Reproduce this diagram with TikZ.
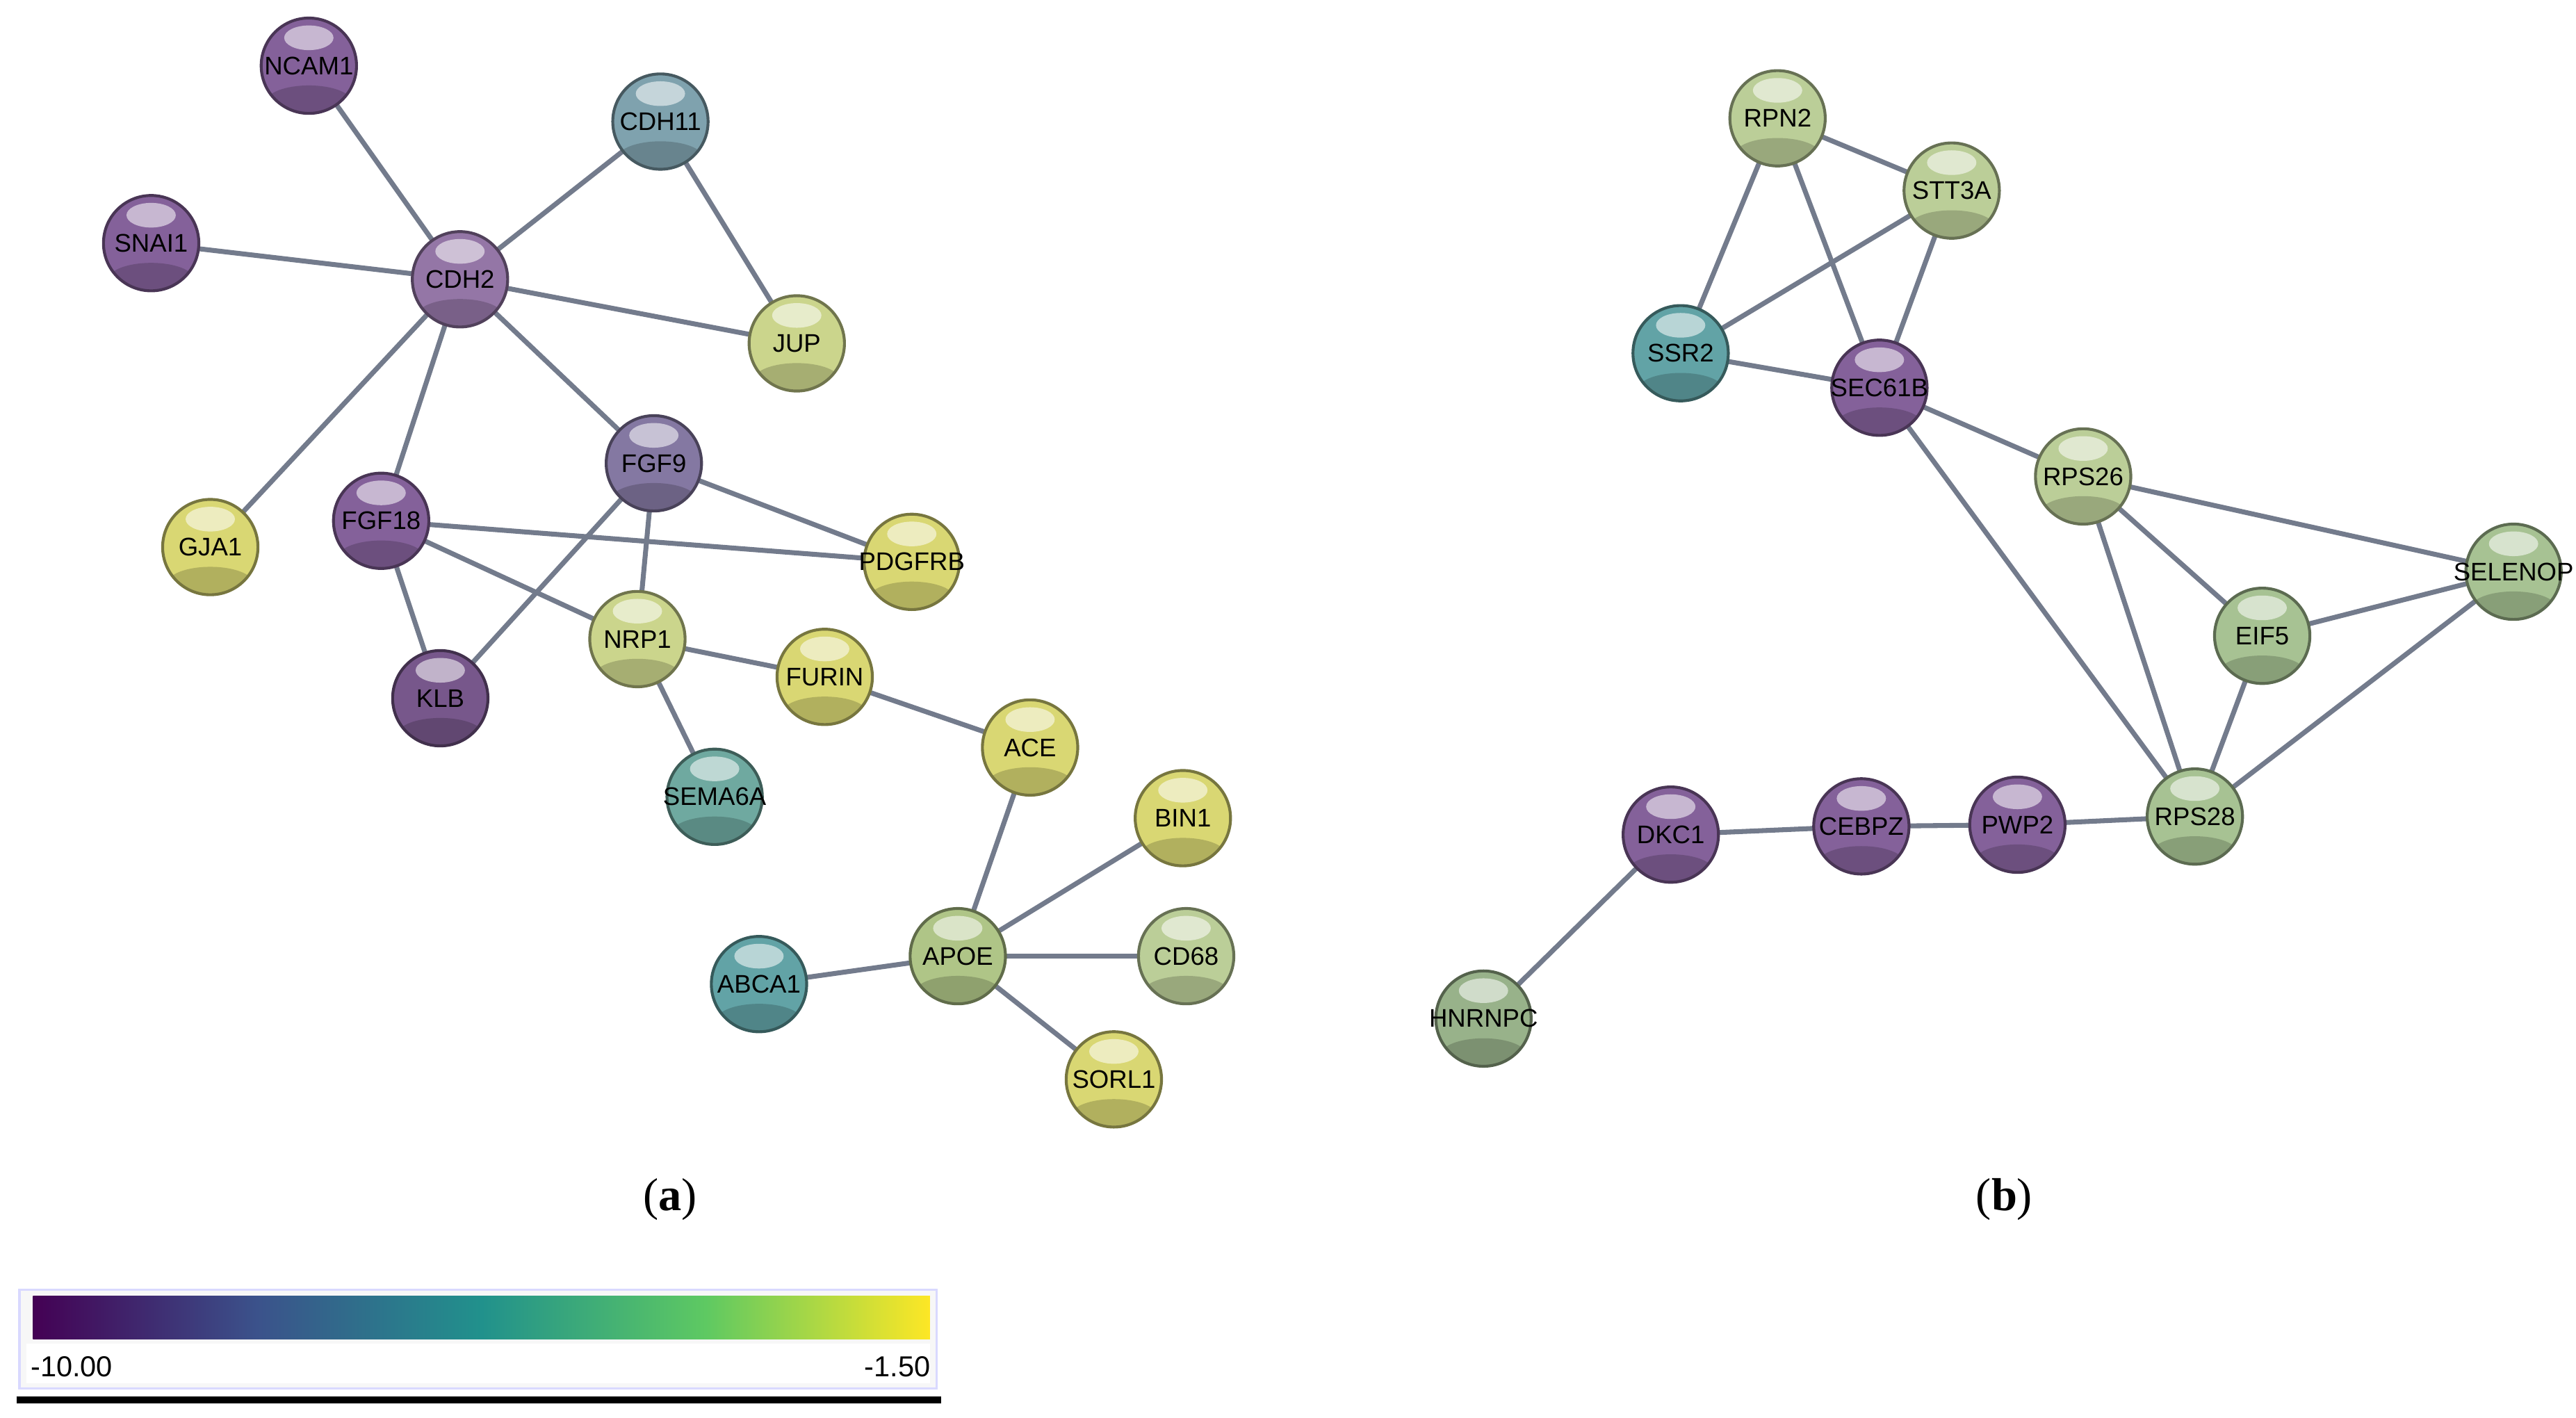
\documentclass[tikz,border=0pt]{standalone}
\usepackage{fontspec}
\setmainfont{Liberation Serif}
\setsansfont{Liberation Sans}
\usetikzlibrary{backgrounds,calc}
\definecolor{cpur}{HTML}{84619A}
\definecolor{cpurl}{HTML}{9476A6}
\definecolor{cpurg}{HTML}{8478A2}
\definecolor{ccdh}{HTML}{7FA2AE}
\definecolor{cyel}{HTML}{D9D773}
\definecolor{cyg}{HTML}{CBD58C}
\definecolor{cteal}{HTML}{6FA9A0}
\definecolor{cteal2}{HTML}{62A3A6}
\definecolor{capoe}{HTML}{AFC587}
\definecolor{clg}{HTML}{BBCE98}
\definecolor{cgr}{HTML}{A7C293}
\definecolor{chn}{HTML}{98B28A}
\definecolor{cedge}{HTML}{737B8C}
\definecolor{v1}{HTML}{440154}
\definecolor{v2}{HTML}{3B528B}
\definecolor{v3}{HTML}{21918C}
\definecolor{v4}{HTML}{5EC962}
\definecolor{v5}{HTML}{FDE725}
\pgfdeclarehorizontalshading{viridis}{100bp}{color(0bp)=(v1); color(25bp)=(v1); color(37.5bp)=(v2); color(50bp)=(v3); color(62.5bp)=(v4); color(75bp)=(v5); color(100bp)=(v5)}
\newcommand\zw[1]{\makebox[0pt]{#1}}
\tikzset{
  gene/.style={circle, minimum size=0.58cm, inner sep=0pt, fill=#1, draw=#1!55!black, line width=0.5pt,
    font=\sffamily\fontsize{4.4}{5}\selectfont,
    path picture={
      \fill[black,opacity=0.18] ($(path picture bounding box.center)+(0,-0.22cm)$) ellipse (0.26cm and 0.1cm);
      \fill[white,opacity=0.55] ($(path picture bounding box.center)+(0,0.17cm)$) ellipse (0.15cm and 0.075cm);}},
  edge/.style={draw=cedge, line width=0.85pt}
}
\begin{document}
\begin{tikzpicture}[x=0.01cm,y=-0.01cm]
\useasboundingbox (0,0) rectangle (1568,863);
% panel a
\node[gene=cpur] (NCAM1) at (188,40) {NCAM1};
\node[gene=ccdh] (CDH11) at (402,74) {CDH11};
\node[gene=cpur] (SNAI1) at (92,148) {SNAI1};
\node[gene=cpurl] (CDH2) at (280,170) {CDH2};
\node[gene=cyg] (JUP) at (485,209) {JUP};
\node[gene=cpurg] (FGF9) at (398,282) {FGF9};
\node[gene=cpur] (FGF18) at (232,317) {FGF18};
\node[gene=cyel] (GJA1) at (128,333) {GJA1};
\node[gene=cyel] (PDGFRB) at (555,342) {\zw{PDGFRB}};
\node[gene=cyg] (NRP1) at (388,389) {NRP1};
\node[gene=cyel] (FURIN) at (502,412) {FURIN};
\node[gene=cpur!90!black] (KLB) at (268,425) {KLB};
\node[gene=cyel] (ACE) at (627,455) {ACE};
\node[gene=cteal] (SEMA6A) at (435,485) {\zw{SEMA6A}};
\node[gene=cyel] (BIN1) at (720,498) {BIN1};
\node[gene=cteal2] (ABCA1) at (462,599) {ABCA1};
\node[gene=capoe] (APOE) at (583,582) {APOE};
\node[gene=clg] (CD68) at (722,582) {CD68};
\node[gene=cyel] (SORL1) at (678,657) {SORL1};
% panel b
\node[gene=clg] (RPN2) at (1082,72) {RPN2};
\node[gene=clg] (STT3A) at (1188,116) {STT3A};
\node[gene=cteal2] (SSR2) at (1023,215) {SSR2};
\node[gene=cpur] (SEC61B) at (1144,236) {\zw{SEC61B}};
\node[gene=clg] (RPS26) at (1268,290) {RPS26};
\node[gene=cgr] (SELENOP) at (1530,348) {\zw{SELENOP}};
\node[gene=cgr] (EIF5) at (1377,387) {EIF5};
\node[gene=cgr] (RPS28) at (1336,497) {RPS28};
\node[gene=cpur] (PWP2) at (1228,502) {PWP2};
\node[gene=cpur] (CEBPZ) at (1133,503) {CEBPZ};
\node[gene=cpur] (DKC1) at (1017,508) {DKC1};
\node[gene=chn] (HNRNPC) at (903,620) {\zw{HNRNPC}};
\begin{scope}[on background layer]
\foreach \a/\b in {NCAM1/CDH2,SNAI1/CDH2,CDH11/CDH2,CDH11/JUP,CDH2/JUP,CDH2/FGF9,CDH2/FGF18,CDH2/GJA1,FGF9/PDGFRB,FGF18/PDGFRB,FGF9/NRP1,FGF9/KLB,FGF18/KLB,FGF18/NRP1,NRP1/SEMA6A,NRP1/FURIN,FURIN/ACE,ACE/APOE,APOE/BIN1,APOE/CD68,APOE/SORL1,APOE/ABCA1,
RPN2/STT3A,RPN2/SSR2,RPN2/SEC61B,STT3A/SSR2,STT3A/SEC61B,SSR2/SEC61B,SEC61B/RPS26,SEC61B/RPS28,RPS26/SELENOP,RPS26/EIF5,RPS26/RPS28,EIF5/SELENOP,EIF5/RPS28,SELENOP/RPS28,RPS28/PWP2,PWP2/CEBPZ,CEBPZ/DKC1,DKC1/HNRNPC}
  \draw[edge] (\a.center) -- (\b.center);
\end{scope}
\node[font=\fontsize{8}{9}\selectfont] (la) at (408,730) {(\textbf{a})};
\node[font=\fontsize{8}{9}\selectfont] (lb) at (1220,730) {(\textbf{b})};
% colour bar
\node[draw=blue!15, fill=gray!6, line width=0.4pt, minimum width=0.558cm*10, minimum height=0.6cm, inner sep=0pt] (frame) at (291,815) {};
\fill[white] (16,818) rectangle (566,842);
\shade[shading=viridis] (20,789) rectangle (566,815);
\node[font=\sffamily\fontsize{5}{6}\selectfont, anchor=west, inner sep=0pt] (lmin) at (18,832) {-10.00};
\node[font=\sffamily\fontsize{5}{6}\selectfont, anchor=east, inner sep=0pt] (lmax) at (567,832) {-1.50};
\draw[line width=1.2pt] (10,852) -- (573,852);
\end{tikzpicture}
\end{document}
